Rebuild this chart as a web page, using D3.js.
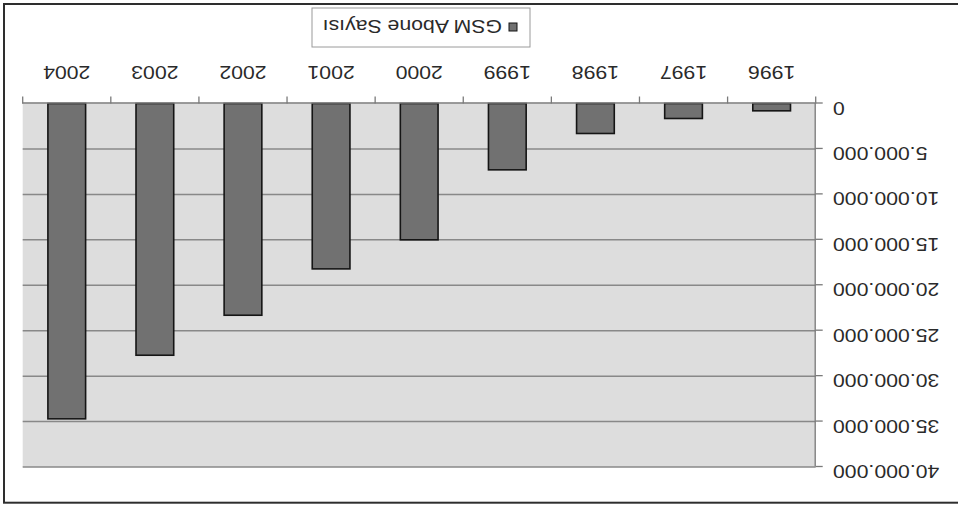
<!DOCTYPE html>
<html>
<head>
<meta charset="utf-8">
<script src="https://cdn.jsdelivr.net/npm/d3@7"></script>
<style>
  html, body { margin: 0; padding: 0; background: #fff; }
  svg { display: block; }
  text { font-family: "Liberation Sans", Arial, Helvetica, sans-serif; font-weight: normal; fill: #2a2a2a; }
</style>
</head>
<body>
<svg id="chart" width="958" height="511"></svg>
<script>
// ---- data ----
const years = ["1996", "1997", "1998", "1999", "2000", "2001", "2002", "2003", "2004"];
const subscribers = [806000, 1650000, 3300000, 7300000, 15000000, 18200000, 23300000, 27700000, 34700000];
const yTicks = [0, 5000000, 10000000, 15000000, 20000000, 25000000, 30000000, 35000000, 40000000];
const seriesName = "GSM Abone Sayısı";

// ---- layout ----
const W = 958, H = 511;
const plot = { left: 142.3, right: 935.3, top: 44, bottom: 407.5 };
const sx = 1.18; // horizontal stretch of the scanned text
const fontSize = 18;
const FONT = "'Liberation Sans', Arial, Helvetica, sans-serif";

const svg = d3.select("#chart");
svg.append("rect").attr("width", W).attr("height", H).attr("fill", "#fff");

// The whole chart appears rotated by 180 degrees
const g = svg.append("g").attr("transform", `rotate(180, ${W / 2}, ${H / 2})`);

// outer chart frame
g.append("rect")
  .attr("x", -10).attr("y", 8.3).attr("width", 964).attr("height", 498.7)
  .attr("fill", "#fff").attr("stroke", "#2e2e2e").attr("stroke-width", 2);

const x = d3.scaleBand().domain(years).range([plot.left, plot.right])
  .paddingInner(0.572).paddingOuter(0.286);
const y = d3.scaleLinear().domain([0, 40000000]).range([plot.bottom, plot.top]);

// plot area
g.append("rect")
  .attr("x", plot.left).attr("y", plot.top)
  .attr("width", plot.right - plot.left).attr("height", plot.bottom - plot.top)
  .attr("fill", "#dddddd");

// gridlines
g.append("g").selectAll("line").data(yTicks.filter(d => d > 0)).join("line")
  .attr("x1", plot.left).attr("x2", plot.right)
  .attr("y1", d => y(d)).attr("y2", d => y(d))
  .attr("stroke", "#888888").attr("stroke-width", 1.5);

// bars
g.append("g").selectAll("rect").data(years).join("rect")
  .attr("x", d => x(d))
  .attr("y", (d, i) => y(subscribers[i]))
  .attr("width", x.bandwidth())
  .attr("height", (d, i) => y(0) - y(subscribers[i]))
  .attr("fill", "#717171").attr("stroke", "#151515").attr("stroke-width", 1.6);

// y axis
const fmt = d => d3.format(",")(d).replace(/,/g, ".");
const yAxis = g.append("g").attr("transform", `translate(${plot.left},0)`)
  .call(d3.axisLeft(y).tickValues(yTicks).tickFormat(fmt).tickSize(7).tickSizeOuter(0));
yAxis.attr("font-family", FONT);
yAxis.select(".domain").attr("stroke", "#7a7a7a").attr("stroke-width", 1.3);
yAxis.selectAll(".tick line").attr("stroke", "#7a7a7a").attr("stroke-width", 1.3);
yAxis.selectAll(".tick text")
  .attr("x", 0).attr("y", 0).attr("dy", null)
  .attr("transform", `translate(-17.3,1.5) scale(${sx},1)`)
  .attr("font-size", fontSize).attr("font-family", FONT)
  .attr("fill", "#2a2a2a").attr("text-anchor", "end");

// x axis (ticks at category boundaries)
const xAxis = g.append("g").attr("transform", `translate(0,${plot.bottom})`)
  .call(d3.axisBottom(x).tickSize(0).tickSizeOuter(0));
xAxis.attr("font-family", FONT);
xAxis.select(".domain").attr("stroke", "#7a7a7a").attr("stroke-width", 1.3);
xAxis.selectAll(".tick text")
  .attr("x", 0).attr("y", 0).attr("dy", null)
  .attr("transform", `translate(0,37.5) scale(${sx},1)`)
  .attr("font-size", fontSize).attr("font-family", FONT)
  .attr("fill", "#2a2a2a").attr("text-anchor", "middle");
const bounds = years.map(d => x(d) - x.step() * x.paddingInner() / 2).concat([plot.right]);
xAxis.append("g").selectAll("line").data(bounds).join("line")
  .attr("x1", d => d).attr("x2", d => d).attr("y1", 0).attr("y2", 7)
  .attr("stroke", "#7a7a7a").attr("stroke-width", 1.3);

// legend
const lg = g.append("g");
lg.append("rect").attr("x", 428).attr("y", 464).attr("width", 218).attr("height", 39)
  .attr("fill", "#fff").attr("stroke", "#9a9a9a").attr("stroke-width", 1);
lg.append("rect").attr("x", 441).attr("y", 480).attr("width", 8).attr("height", 8)
  .attr("fill", "#717171").attr("stroke", "#151515").attr("stroke-width", 1);
lg.append("text").text(seriesName)
  .attr("transform", `translate(456,491) scale(${sx},1)`)
  .attr("font-size", fontSize).attr("font-family", FONT);
</script>
</body>
</html>
